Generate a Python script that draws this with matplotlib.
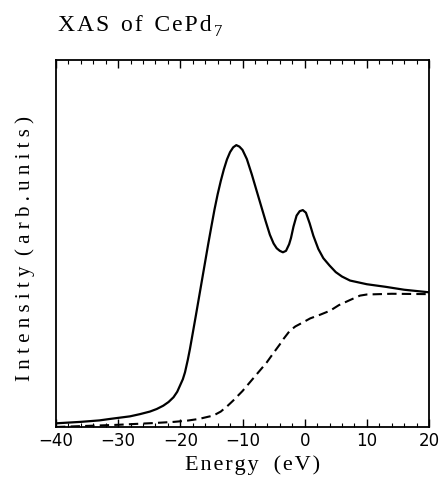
import matplotlib
matplotlib.use("Agg")
import matplotlib.pyplot as plt
from matplotlib.ticker import MultipleLocator

# Solid curve: total XAS intensity (arb. units)
solid_E = [-40, -36, -33, -31.3, -28.1, -26.5, -24.9, -23.8, -22.75, -21.9, -21.1, -20.5,
           -20.05, -19.6, -19.25, -18.8, -18.45, -18, -17.5, -17, -16.5, -16, -15.5, -15,
           -14.5, -14, -13.5, -13, -12.5, -12, -11.5, -11, -10.5, -10, -9.3, -8.5, -7.7,
           -7, -6.3, -5.6, -5, -4.5, -4, -3.5, -3, -2.5, -2.2, -1.8, -1.3, -0.8, -0.3,
           0.2, 0.8, 1.4, 2.2, 3.0, 4.0, 5.0, 6.0, 7.3, 10, 13, 16, 20]
solid_I = [1.0, 1.4, 1.8, 2.2, 2.9, 3.5, 4.2, 4.9, 5.8, 6.8, 8.1, 9.6,
           11.3, 13.0, 14.9, 18.3, 21.3, 25.6, 30.4, 35.3, 40.2, 45.1, 50.0, 54.7,
           59.3, 63.4, 67.0, 70.2, 72.9, 74.9, 76.2, 76.8, 76.4, 75.5, 73.0, 68.8, 64.2,
           60.2, 56.2, 52.4, 50.0, 48.7, 48.0, 47.6, 48.0, 49.8, 51.5, 54.6, 57.6, 58.8, 59.1,
           58.4, 55.5, 52.1, 48.5, 46.0, 44.0, 42.2, 41.0, 39.9, 38.9, 38.2, 37.4, 36.7]

# Dashed curve: step-like background
dash_E = [-40, -35, -30, -27.6, -24, -21, -19, -17, -15.5, -14.7, -13.5, -12.5, -11.5,
          -10, -8.8, -7.5, -6.1, -5, -4, -3.4, -2.4, -1.5, -0.5, 0.9, 2.5, 4.1, 5.5,
          7.3, 8.9, 10, 14, 20]
dash_I = [0.0, 0.3, 0.6, 0.8, 1.1, 1.4, 1.7, 2.2, 2.8, 3.1, 4.2, 5.6, 7.2, 9.8, 12.2,
          14.8, 17.6, 20.2, 22.5, 24.0, 26.2, 27.4, 28.3, 29.6, 30.6, 31.7, 33.2, 34.6,
          35.8, 36.1, 36.3, 36.2]

xticks = [-40, -30, -20, -10, 0, 10, 20]
xtick_labels = ["\u221240", "\u221230", "\u221220", "\u221210", "0", "10", "20"]

title_main = "XAS of CePd"
title_sub = "7"
xlabel = "Energy (eV)"
ylabel = "Intensity (arb.units)"

HAIR = "\u200a"

fig = plt.figure(figsize=(4.42, 4.81), dpi=100)
ax = fig.add_axes([0.1267, 0.1102, 0.8439, 0.763])

ax.plot(solid_E, solid_I, color="black", lw=1.6, solid_joinstyle="round")
ax.plot(dash_E, dash_I, color="black", lw=1.5, linestyle=(0, (4.5, 2.5)))

ax.set_xlim(-40, 20)
ax.set_ylim(0, 100)
ax.set_xticks(xticks)
ax.set_xticklabels(xtick_labels, fontfamily="DejaVu Sans", fontsize=12)
ax.xaxis.set_minor_locator(MultipleLocator(2))
ax.tick_params(axis="x", which="major", direction="in", length=6, width=1,
               top=True, bottom=True, pad=3)
ax.tick_params(axis="x", which="minor", direction="in", length=3, width=0.8,
               top=True, bottom=True)
ax.set_yticks([])
for s in ax.spines.values():
    s.set_linewidth(1.3)

ax.set_xlabel(HAIR.join(xlabel).replace(" ", "  "), fontfamily="Liberation Serif",
              fontsize=16)
ax.xaxis.set_label_coords(0.527, -0.075)
ax.set_ylabel(" ".join(ylabel).replace("   ", "  "), fontfamily="Liberation Serif",
              fontsize=15)
ax.yaxis.set_label_coords(-0.056, 0.49)

t = fig.text(0.131, 0.935, HAIR.join(title_main).replace(HAIR + " " + HAIR, "  "),
             fontfamily="Liberation Serif", fontsize=17, ha="left", va="baseline")
renderer = fig.canvas.get_renderer()
bb = t.get_window_extent(renderer)
x1 = fig.transFigure.inverted().transform((bb.x1 + 2, bb.y0))[0]
fig.text(x1, 0.935 - 0.010, title_sub, fontfamily="Liberation Serif", fontsize=12,
         ha="left", va="baseline")

fig.savefig("out.png", dpi=100)
